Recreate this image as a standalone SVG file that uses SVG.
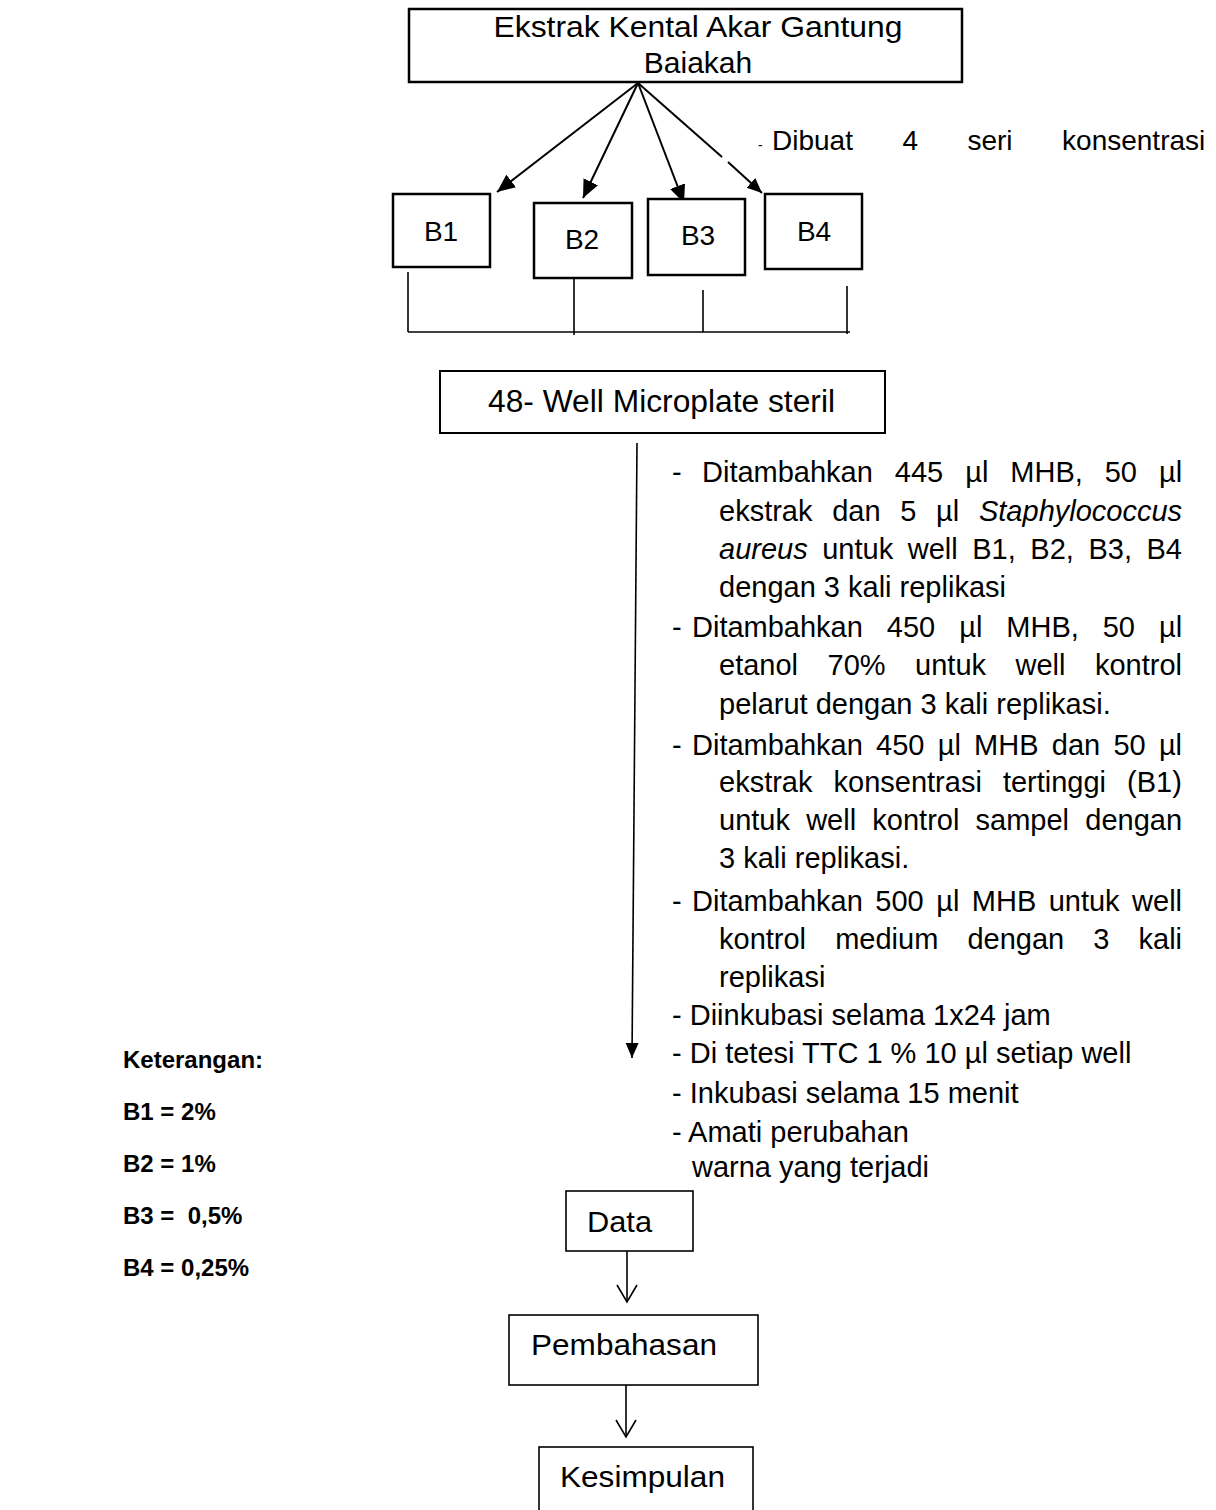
<svg xmlns="http://www.w3.org/2000/svg" width="1216" height="1510" viewBox="0 0 1216 1510">
<style>
text{font-family:"Liberation Sans",Arial,Helvetica,sans-serif;fill:#000}
.b{font-size:29px}
.k{font-size:24px;font-weight:bold}
.box{fill:#fff;stroke:#000}
.ln{fill:none;stroke:#000;stroke-width:1.6}
.ar{fill:none;stroke:#000;stroke-width:2}
</style>
<defs>
<marker id="ah" markerUnits="userSpaceOnUse" markerWidth="19" markerHeight="16" refX="18" refY="8" orient="auto">
<path d="M0,0 L18,8 L0,16 z" fill="#000"/>
</marker>
<marker id="ah2" markerUnits="userSpaceOnUse" markerWidth="16" markerHeight="14" refX="15" refY="6.5" orient="auto">
<path d="M0,0 L15,6.5 L0,13 z" fill="#000"/>
</marker>
</defs>
<rect width="1216" height="1510" fill="#fff"/>

<g id="connectors">
<line class="ar" x1="638" y1="83" x2="497" y2="192" marker-end="url(#ah)"/>
<line class="ar" x1="638" y1="83" x2="583" y2="198" marker-end="url(#ah)"/>
<line class="ar" x1="638" y1="83" x2="684" y2="203" marker-end="url(#ah)"/>
<line class="ar" x1="638" y1="83" x2="722" y2="157"/>
<line class="ar" x1="728" y1="162" x2="762" y2="193" marker-end="url(#ah2)"/>
<line class="ln" x1="408" y1="272" x2="408" y2="332"/>
<line class="ln" x1="574" y1="279" x2="574" y2="335"/>
<line class="ln" x1="703" y1="290" x2="703" y2="332"/>
<line class="ln" x1="847" y1="286" x2="847" y2="334"/>
<line class="ln" x1="408" y1="332" x2="850" y2="332"/>
<line class="ln" x1="637" y1="443" x2="632" y2="1058" marker-end="url(#ah2)"/>
<line class="ln" x1="627" y1="1251" x2="627" y2="1302"/>
<polyline class="ln" points="617,1285 627,1302 637,1285"/>
<line class="ln" x1="626" y1="1385" x2="626" y2="1437"/>
<polyline class="ln" points="616,1420 626,1437 636,1420"/>
</g>

<g id="node-ekstrak">
<rect class="box" x="409" y="9" width="553" height="73" stroke-width="2.5"/>
<text x="698" y="37" font-size="30" text-anchor="middle" textLength="409" lengthAdjust="spacingAndGlyphs">Ekstrak Kental Akar Gantung</text>
<text x="698" y="73" font-size="30" text-anchor="middle">Baiakah</text>
</g>

<g id="label-dibuat">
<text x="758" y="150" font-size="14">-</text>
<text x="772" y="150" font-size="28" word-spacing="41.7">Dibuat 4 seri konsentrasi</text>
</g>

<g id="node-b1">
<rect class="box" x="393" y="194" width="97" height="73" stroke-width="2.5"/>
<text x="441" y="241" font-size="28" text-anchor="middle">B1</text>
</g>
<g id="node-b2">
<rect class="box" x="534" y="203" width="98" height="75" stroke-width="2.5"/>
<text x="582" y="249" font-size="28" text-anchor="middle">B2</text>
</g>
<g id="node-b3">
<rect class="box" x="648" y="199" width="97" height="76" stroke-width="2.5"/>
<text x="698" y="245" font-size="28" text-anchor="middle">B3</text>
</g>
<g id="node-b4">
<rect class="box" x="765" y="194" width="97" height="75" stroke-width="2.5"/>
<text x="814" y="241" font-size="28" text-anchor="middle">B4</text>
</g>

<g id="node-microplate">
<rect class="box" x="440" y="371" width="445" height="62" stroke-width="2"/>
<text x="661.5" y="412" font-size="31" text-anchor="middle" textLength="347" lengthAdjust="spacingAndGlyphs">48- Well Microplate steril</text>
</g>

<g id="steps">
<text class="b" x="672" y="482">-</text>
<text class="b" x="702" y="482" word-spacing="13.9">Ditambahkan 445 µl MHB, 50 µl</text>
<text class="b" x="719" y="521" word-spacing="11.65">ekstrak dan 5 µl <tspan font-style="italic">Staphylococcus</tspan></text>
<text class="b" x="719" y="559" word-spacing="6.5"><tspan font-style="italic">aureus</tspan> untuk well B1, B2, B3, B4</text>
<text class="b" x="719" y="597">dengan 3 kali replikasi</text>
<text class="b" x="672" y="637">-</text>
<text class="b" x="692" y="637" word-spacing="15.9">Ditambahkan 450 µl MHB, 50 µl</text>
<text class="b" x="719" y="675" word-spacing="21.45">etanol 70% untuk well kontrol</text>
<text class="b" x="719" y="714">pelarut dengan 3 kali replikasi.</text>
<text class="b" x="672" y="755">-</text>
<text class="b" x="692" y="755" word-spacing="5.18">Ditambahkan 450 µl MHB dan 50 µl</text>
<text class="b" x="719" y="792" word-spacing="13">ekstrak konsentrasi tertinggi (B1)</text>
<text class="b" x="719" y="830" word-spacing="8.15">untuk well kontrol sampel dengan</text>
<text class="b" x="719" y="868">3 kali replikasi.</text>
<text class="b" x="672" y="911">-</text>
<text class="b" x="692" y="911" word-spacing="4.4">Ditambahkan 500 µl MHB untuk well</text>
<text class="b" x="719" y="949" word-spacing="21.05">kontrol medium dengan 3 kali</text>
<text class="b" x="719" y="987">replikasi</text>
<text class="b" x="672" y="1025">- Diinkubasi selama 1x24 jam</text>
<text class="b" x="672" y="1063">- Di tetesi TTC 1 % 10 µl setiap well</text>
<text class="b" x="672" y="1103">- Inkubasi selama 15 menit</text>
<text class="b" x="672" y="1142">- Amati perubahan</text>
<text class="b" x="692" y="1177">warna yang terjadi</text>
</g>

<g id="keterangan">
<text class="k" x="123" y="1068">Keterangan:</text>
<text class="k" x="123" y="1120">B1 = 2%</text>
<text class="k" x="123" y="1172">B2 = 1%</text>
<text class="k" x="123" y="1224" xml:space="preserve">B3 =  0,5%</text>
<text class="k" x="123" y="1276">B4 = 0,25%</text>
</g>

<g id="node-data">
<rect class="box" x="566" y="1191" width="127" height="60" stroke-width="1.6"/>
<text x="587" y="1232" font-size="30" textLength="65" lengthAdjust="spacingAndGlyphs">Data</text>
</g>
<g id="node-pembahasan">
<rect class="box" x="509" y="1315" width="249" height="70" stroke-width="1.6"/>
<text x="531" y="1355" font-size="30" textLength="186" lengthAdjust="spacingAndGlyphs">Pembahasan</text>
</g>
<g id="node-kesimpulan">
<rect class="box" x="539" y="1447" width="214" height="80" stroke-width="1.6"/>
<text x="560" y="1487" font-size="30" textLength="165" lengthAdjust="spacingAndGlyphs">Kesimpulan</text>
</g>
</svg>
